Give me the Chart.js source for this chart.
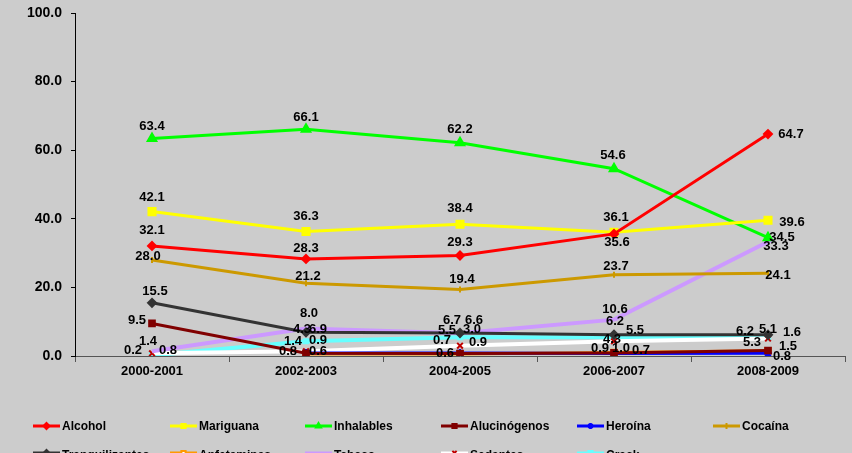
<!DOCTYPE html>
<html>
<head>
<meta charset="utf-8">
<script src="https://cdn.jsdelivr.net/npm/chart.js@4/dist/chart.umd.min.js"></script>
<style>
html,body{margin:0;padding:0;background:#cccccc;}
#c{display:block;}
</style>
</head>
<body>
<canvas id="c" width="852" height="453"></canvas>
<script>
// ---- data ----
const categories = ["2000-2001","2002-2003","2004-2005","2006-2007","2008-2009"];
const alcohol        = [32.1, 28.3, 29.3, 35.6, 64.7];
const mariguana      = [42.1, 36.3, 38.4, 36.1, 39.6];
const inhalables     = [63.4, 66.1, 62.2, 54.6, 34.5];
const alucinogenos   = [9.5, 0.8, 0.7, 0.9, 1.6];
const heroina        = [null, 0.9, 0.9, 0.7, 0.8];
const cocaina        = [28.0, 21.2, 19.4, 23.7, 24.1];
const tranquilizantes= [15.5, 6.9, 6.7, 6.2, 6.2];
const anfetaminas    = [null, 0.6, 0.6, 1.0, 1.5];
const tabaco         = [1.4, 8.0, 6.6, 10.6, 33.3];
const sedantes       = [0.8, 1.4, 3.0, 4.3, 5.1];
const crack          = [0.2, 4.3, 5.5, 5.5, 5.3];
const seriesNames = ["Alcohol","Mariguana","Inhalables","Alucinógenos","Heroína","Cocaína",
                     "Tranquilizantes","Anfetaminas","Tabaco","Sedantes","Crack"];
const yTicks = [0, 20, 40, 60, 80, 100];

// ---- styles ----
const FONT = "'Liberation Sans', Arial, sans-serif";
const styles = [
  {c:'#ff0000', ps:'rectRot', r:4, pb:'#ff0000', pf:'#ff0000', w:3},
  {c:'#ffff00', ps:'rect', r:5, pb:'#ffff00', pf:'#ffff00', w:3},
  {c:'#00ff00', ps:'triangle', r:5, pb:'#00ff00', pf:'#00ff00', w:3},
  {c:'#800000', ps:'rect', r:4, pb:'#800000', pf:'#800000', w:3},
  {c:'#0000ff', ps:'star', r:4, pb:'#0000ff', pf:'#0000ff', w:3},
  {c:'#cc9900', ps:'line', r:3, pb:'#cc9900', pf:'#cc9900', w:3, rot:90},
  {c:'#333333', ps:'rectRot', r:4, pb:'#333333', pf:'#333333', w:3},
  {c:'#ff9900', ps:'rect', r:4, pb:'#ff9900', pf:'#ffffff', w:3},
  {c:'#cc99ff', ps:'dash', r:4, pb:'#cc99ff', pf:'#cc99ff', w:4},
  {c:'#ffffff', ps:'crossRot', r:4, pb:'#c00000', pf:'#c00000', w:4},
  {c:'#66ffff', ps:'rect', r:3, pb:'#66ffff', pf:'#66ffff', w:4}
];
// data label offsets [dx,dy] from point
const labelOffsets = [
  [[0,-15],[0,-11],[0,-13],[3,9],[23,0]],
  [[0,-14],[0,-15],[0,-16],[2,-15],[24,2]],
  [[0,-12],[0,-12],[0,-13],[-1,-13],[14,0]],
  [[-15,-3],[-18,-2],[-18,-13],[-14,-4],[24,-18]],
  [null,[12,-12],[18,-10],[27,-3],[14,3]],
  [[-4,-4],[2,-7],[2,-10],[2,-8],[10,2]],
  [[3,-11],[12,-3],[-8,-13],[1,-13],[-23,-3]],
  [null,[12,-3],[-15,-1],[7,-4],[20,-4]],
  [[-4,-10],[3,-15],[14,-13],[1,-10],[8,5]],
  [[16,-3],[-13,-10],[12,-16],[-2,-2],[0,-9]],
  [[-19,-5],[-4,-12],[-13,-7],[21,-7],[-16,5]]
];
const allData = [alcohol, mariguana, inhalables, alucinogenos, heroina, cocaina,
                 tranquilizantes, anfetaminas, tabaco, sedantes, crack];

const datasets = allData.map((d,i)=>({
  label: seriesNames[i],
  data: d,
  borderColor: styles[i].c,
  backgroundColor: styles[i].pf,
  borderWidth: styles[i].w,
  pointStyle: styles[i].ps,
  pointRadius: styles[i].r,
  pointRotation: styles[i].rot || 0,
  pointBorderColor: styles[i].pb,
  pointBackgroundColor: styles[i].pf,
  pointBorderWidth: 2,
  tension: 0,
  spanGaps: false
}));

const bgPlugin = {
  id:'bg',
  beforeDraw(chart){
    const ctx = chart.ctx;
    ctx.save();
    ctx.fillStyle = '#cccccc';
    ctx.fillRect(0,0,chart.width,chart.height);
    ctx.restore();
  }
};

const labelPlugin = {
  id:'dlabels',
  afterDatasetsDraw(chart){
    const ctx = chart.ctx;
    ctx.save();
    ctx.font = "bold 13px " + FONT;
    ctx.fillStyle = '#000';
    ctx.textAlign = 'center';
    ctx.textBaseline = 'middle';
    chart.data.datasets.forEach((ds, i)=>{
      const meta = chart.getDatasetMeta(i);
      meta.data.forEach((pt, j)=>{
        const v = ds.data[j];
        if (v === null || v === undefined) return;
        const off = labelOffsets[i][j] || [0,-13];
        ctx.fillText(v.toFixed(1), pt.x + off[0], pt.y + off[1]);
      });
    });
    ctx.restore();
  }
};

const legendCols = [33, 170, 305, 441, 577, 713];
const legendRows = [426, 453];
const legendPlugin = {
  id:'customLegend',
  afterDraw(chart){
    const ctx = chart.ctx;
    ctx.save();
    chart.data.datasets.forEach((ds,i)=>{
      const x = legendCols[i % 6];
      const row = Math.floor(i / 6);
      const y = legendRows[row];
      ctx.strokeStyle = ds.borderColor;
      ctx.lineWidth = 3;
      ctx.beginPath();
      ctx.moveTo(x, y); ctx.lineTo(x+27, y);
      ctx.stroke();
      if (Chart.helpers && Chart.helpers.drawPoint) {
        ctx.fillStyle = ds.pointBackgroundColor;
        ctx.strokeStyle = ds.pointBorderColor;
        ctx.lineWidth = 2;
        Chart.helpers.drawPoint(ctx, {pointStyle: ds.pointStyle, radius: 3, rotation: ds.pointRotation, borderWidth: 2}, x+13.5, y);
      }
      ctx.fillStyle = '#000';
      ctx.font = "bold 12px " + FONT;
      ctx.textAlign = 'left';
      ctx.textBaseline = 'middle';
      ctx.fillText(ds.label, x+29, y + (row ? 3 : 1));
    });
    ctx.restore();
  }
};

new Chart(document.getElementById('c'), {
  type:'line',
  data:{ labels: categories, datasets },
  options:{
    responsive:false,
    devicePixelRatio:1,
    animation:false,
    layout:{ padding:{ top:13, right:7, left:0, bottom:0 } },
    plugins:{ legend:{display:false}, tooltip:{enabled:false} },
    scales:{
      x:{
        offset:true,
        grid:{ offset:true, drawOnChartArea:false, drawTicks:true, tickLength:6, color:'#555555' },
        border:{ color:'#555555', width:1 },
        ticks:{ color:'#000', font:{ family:FONT, size:13, weight:'bold' }, padding:2, maxRotation:0 },
        afterFit(s){ s.height = 97; }
      },
      y:{
        min:0, max:100,
        afterBuildTicks(s){ s.ticks = yTicks.map(v=>({value:v})); },
        grid:{ drawOnChartArea:false, drawTicks:true, tickLength:4, color:'#000' },
        border:{ color:'#000', width:1 },
        ticks:{ color:'#000', font:{ family:FONT, size:14, weight:'bold' }, padding:9,
                callback:(v)=>Number(v).toFixed(1) },
        afterFit(s){ s.width = 75; s.paddingTop = 0; s.paddingBottom = 0; }
      }
    }
  },
  plugins:[bgPlugin, labelPlugin, legendPlugin]
});
</script>
</body>
</html>
